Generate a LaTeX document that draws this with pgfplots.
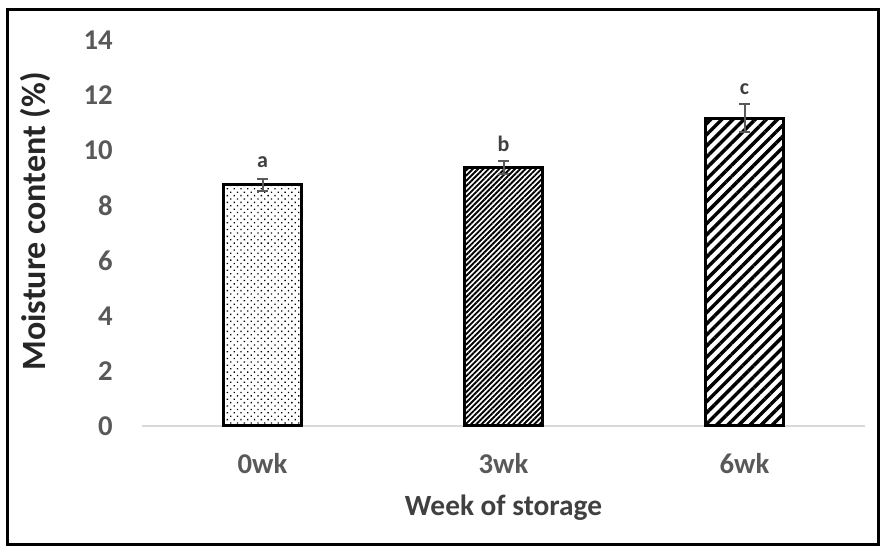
\documentclass[border=0pt]{standalone}
\usepackage{fontspec}
\setmainfont{Carlito}
\usepackage{pgfplots}
\pgfplotsset{compat=1.18}
\usetikzlibrary{patterns.meta}
\definecolor{tickgray}{HTML}{595959}
\definecolor{titlegray}{HTML}{404040}
\definecolor{ytitle}{HTML}{262626}
\definecolor{axisgray}{HTML}{D9D9D9}
\begin{document}
\begin{tikzpicture}
\path[use as bounding box] (0,0) rectangle (663pt,414pt);
\draw[line width=2.25pt] (5.25pt,5.25pt) rectangle (658.5pt,406.5pt);
\begin{axis}[
 at={(106.5pt,94.5pt)}, anchor=south west,
 scale only axis, width=542.25pt, height=289.5pt,
 xmin=-0.5, xmax=2.5, ymin=0, ymax=14,
 ytick={0,2,...,14}, xtick={0,1,2}, xticklabels={0wk,3wk,6wk},
 axis x line=bottom, axis y line=left,
 x axis line style={draw=axisgray, line width=1.1pt, -},
 y axis line style={draw=none},
 major tick length=0pt,
 /pgf/number format/assume math mode=true,
 tick label style={font=\fontsize{21.5}{25}\selectfont\bfseries, text=tickgray, inner sep=0pt},
 yticklabel style={anchor=east, xshift=-21.75pt},
 xticklabel style={anchor=base, yshift=-36pt},
 xlabel={Week of storage}, ylabel={Moisture content (\%)},
 xlabel style={font=\fontsize{22}{26}\selectfont\bfseries, text=titlegray, inner sep=0pt,
   at={(axis description cs:0.5,-0.2306)}, anchor=base},
 ylabel style={font=\fontsize{25.5}{30}\selectfont\bfseries, text=ytitle, inner sep=0pt,
   at={(axis description cs:-0.148,0.53)}, anchor=center},
 clip=false,
]
\addplot[ybar, bar width=58.5pt, bar shift=0pt, draw=black, line width=2.25pt,
  pattern={Dots[angle=45,distance=3.6pt,radius=0.7pt]},
  error bars/.cd, y dir=both, y explicit,
  error bar style={tickgray, line width=1.5pt},
  error mark options={rotate=90, mark size=4.1pt, tickgray, line width=1.5pt}]
  coordinates {(0,8.75) +- (0,0.21)};
\addplot[ybar, bar width=58.5pt, bar shift=0pt, draw=black, line width=2.25pt,
  pattern={Lines[angle=45,distance=2.8pt,line width=1.4pt]},
  error bars/.cd, y dir=both, y explicit,
  error bar style={tickgray, line width=1.5pt},
  error mark options={rotate=90, mark size=4.1pt, tickgray, line width=1.5pt}]
  coordinates {(1,9.37) +- (0,0.23)};
\addplot[ybar, bar width=58.5pt, bar shift=0pt, draw=black, line width=2.25pt,
  pattern={Lines[angle=45,distance=5.9pt,line width=2.6pt]},
  error bars/.cd, y dir=both, y explicit,
  error bar style={tickgray, line width=1.5pt},
  error mark options={rotate=90, mark size=4.1pt, tickgray, line width=1.5pt}]
  coordinates {(2,11.17) +- (0,0.52)};
\addplot[draw=none, mark=none, nodes near coords, point meta=explicit symbolic,
  every node near coord/.append style={anchor=base, font=\fontsize{16.5}{20}\selectfont\bfseries, text=titlegray, inner sep=0pt}]
  coordinates {(0,9.39) [a] (1,9.94) [b] (2,12.04) [c]};
\end{axis}
\end{tikzpicture}
\end{document}
